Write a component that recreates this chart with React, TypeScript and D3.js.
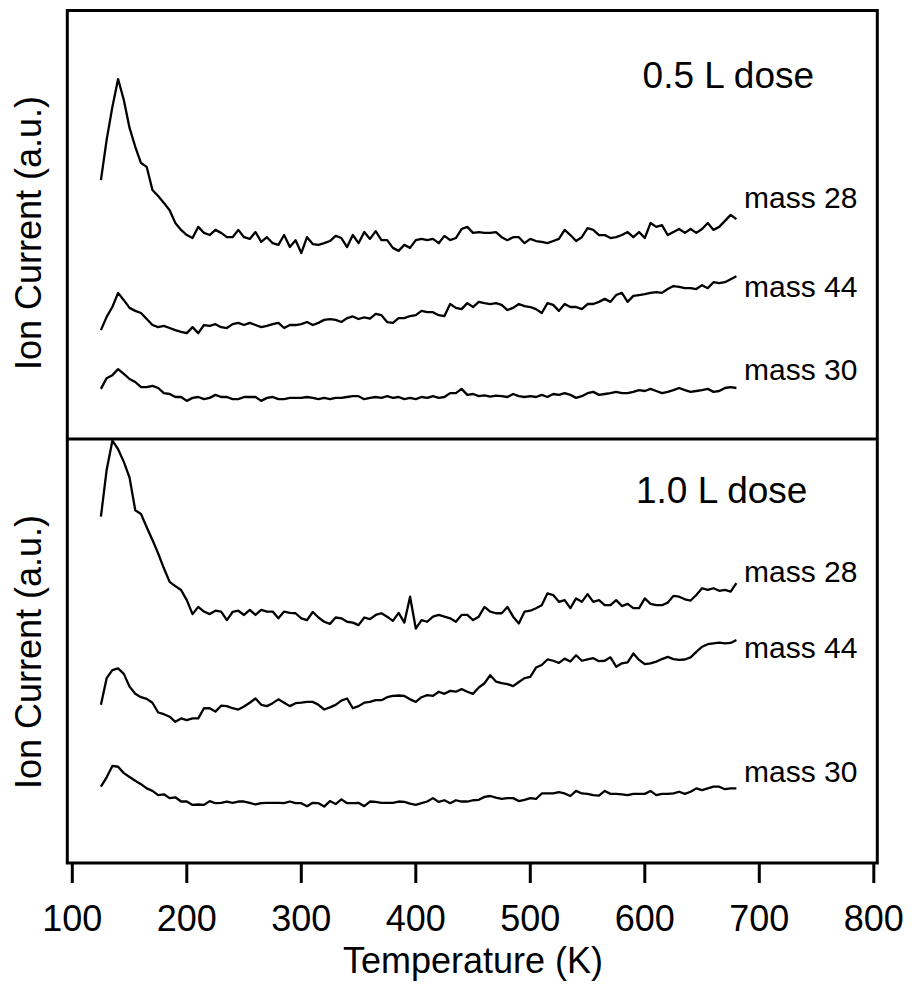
import React from "react";
import * as d3 from "d3";

// Temperature grid (K) of the sampled TPD traces
const temps: number[] = d3.range(125, 681, 5);

// 0.5 L dose panel (ion current, arbitrary units)
const m28Low = [
  60.4, 69.8, 77.5, 84.0, 79.1, 72.6, 68.2, 64.4, 63.5, 58.1,
  56.7, 55.1, 53.4, 50.4, 48.8, 47.6, 46.9, 49.5, 48.1, 47.6,
  48.8, 48.1, 47.1, 47.1, 48.8, 47.1, 46.7, 48.3, 46.0, 47.1,
  45.7, 45.3, 47.6, 44.8, 46.4, 43.4, 47.1, 45.5, 45.3, 45.7,
  46.2, 47.4, 46.9, 44.8, 47.6, 45.7, 48.3, 46.7, 48.5, 46.4,
  46.4, 44.6, 43.9, 45.3, 44.6, 46.4, 46.7, 46.4, 46.7, 45.7,
  47.4, 46.4, 46.9, 49.0, 49.5, 48.1, 48.3, 48.1, 48.1, 48.3,
  47.1, 46.4, 47.1, 47.1, 45.7, 46.7, 46.2, 46.0, 45.7, 46.2,
  46.7, 48.8, 47.6, 46.2, 47.1, 49.2, 48.8, 47.6, 47.6, 46.9,
  47.1, 47.6, 48.3, 47.1, 48.3, 46.9, 50.4, 49.5, 49.9, 47.6,
  48.3, 49.0, 48.1, 49.0, 48.1, 49.0, 50.4, 48.8, 49.5, 50.9,
  52.3, 51.3,
];
const m44Low = [
  25.4, 28.5, 30.8, 34.1, 32.4, 30.6, 29.9, 29.4, 28.0, 26.6,
  26.1, 26.4, 25.9, 25.4, 25.0, 24.7, 26.1, 24.7, 26.6, 26.4,
  26.8, 26.1, 25.9, 26.8, 27.1, 26.6, 27.1, 26.6, 26.1, 26.4,
  26.8, 27.1, 25.9, 26.6, 26.6, 26.8, 27.3, 26.6, 27.1, 27.8,
  28.0, 27.8, 27.3, 28.2, 28.6, 28.0, 28.4, 28.1, 29.2, 28.9,
  27.3, 27.1, 28.2, 28.2, 28.7, 28.9, 29.9, 29.6, 29.6, 28.9,
  28.7, 31.5, 30.6, 30.3, 31.7, 30.8, 32.0, 31.7, 31.5, 31.7,
  31.3, 30.1, 30.6, 31.5, 31.0, 30.8, 30.3, 29.4, 31.7, 31.3,
  29.9, 31.5, 30.8, 30.8, 30.3, 31.5, 31.5, 32.0, 32.7, 32.0,
  33.6, 34.1, 32.0, 33.4, 33.6, 33.8, 34.1, 34.3, 34.1, 35.0,
  35.7, 35.5, 35.2, 35.2, 35.0, 35.9, 35.2, 36.6, 36.4, 36.6,
  37.3, 38.0,
];
const m30Low = [
  11.7, 14.2, 14.9, 16.3, 15.2, 14.0, 13.3, 12.1, 12.1, 12.4,
  11.9, 10.7, 10.5, 9.8, 9.8, 8.9, 9.6, 9.8, 9.3, 9.6,
  10.3, 9.8, 9.8, 9.3, 9.3, 9.8, 9.8, 9.8, 8.9, 9.6,
  9.8, 9.3, 9.3, 9.6, 9.6, 9.6, 9.8, 9.6, 9.3, 9.6,
  9.3, 9.6, 9.6, 9.8, 10.0, 10.0, 9.3, 9.6, 9.8, 9.6,
  10.0, 9.6, 9.8, 9.3, 9.6, 9.3, 9.8, 9.6, 10.0, 9.6,
  9.8, 10.7, 10.7, 11.7, 10.3, 10.5, 10.0, 10.2, 9.9, 10.1,
  10.0, 9.8, 10.5, 10.0, 9.8, 10.0, 9.8, 10.3, 9.8, 10.5,
  10.3, 10.7, 10.3, 9.6, 10.0, 10.7, 11.0, 10.3, 10.5, 10.7,
  11.0, 10.7, 10.7, 11.0, 11.4, 11.2, 11.7, 11.2, 10.7, 11.0,
  11.4, 11.9, 11.4, 11.0, 11.2, 11.4, 11.7, 11.0, 11.2, 11.9,
  12.1, 11.9,
];

// 1.0 L dose panel (ion current, arbitrary units)
const m28High = [
  81.7, 92.7, 99.6, 97.6, 94.6, 90.9, 83.2, 82.3, 79.2, 76.2,
  73.0, 69.5, 66.3, 65.3, 64.4, 62.0, 58.7, 60.4, 59.3, 58.7,
  59.5, 59.3, 57.3, 59.2, 59.5, 58.5, 59.7, 58.5, 59.7, 59.3,
  59.3, 57.7, 59.3, 59.0, 58.9, 57.7, 57.3, 59.2, 57.9, 56.9,
  56.4, 57.9, 57.7, 56.9, 56.7, 56.1, 57.9, 57.5, 58.5, 58.9,
  58.1, 57.1, 59.0, 56.7, 62.8, 55.3, 57.3, 56.9, 58.1, 58.5,
  58.1, 57.7, 56.9, 58.5, 58.5, 57.3, 58.1, 60.4, 59.3, 58.9,
  58.9, 60.4, 58.1, 56.5, 59.3, 59.5, 60.1, 60.8, 63.6, 63.2,
  61.6, 62.0, 60.1, 62.4, 61.6, 63.4, 61.6, 62.0, 60.8, 60.8,
  62.0, 60.6, 61.1, 60.1, 60.1, 62.4, 61.1, 60.8, 60.8, 61.4,
  63.0, 62.8, 62.2, 61.9, 63.2, 64.8, 64.4, 64.8, 64.2, 64.4,
  64.0, 66.0,
];
const m44High = [
  37.3, 43.6, 45.5, 45.9, 44.6, 41.6, 39.9, 39.1, 38.7, 37.8,
  35.5, 35.1, 34.5, 33.3, 34.1, 33.7, 34.1, 34.1, 36.5, 36.5,
  35.7, 37.1, 37.0, 36.5, 36.2, 36.9, 37.8, 38.8, 37.3, 37.0,
  37.7, 38.6, 37.8, 37.0, 37.7, 37.8, 38.0, 38.0, 37.3, 36.2,
  36.7, 37.3, 38.3, 38.8, 36.5, 37.0, 37.8, 38.0, 38.4, 38.4,
  39.1, 39.4, 39.5, 39.4, 38.6, 38.0, 39.1, 39.6, 39.4, 40.4,
  39.9, 40.6, 40.4, 41.0, 40.4, 39.9, 41.4, 42.4, 44.3, 42.8,
  42.4, 42.2, 41.7, 42.7, 43.6, 43.9, 46.1, 46.7, 48.0, 47.7,
  47.2, 48.2, 47.5, 49.0, 47.7, 48.0, 48.3, 47.6, 47.7, 48.5,
  46.3, 47.1, 47.3, 49.4, 47.9, 46.9, 47.1, 47.5, 48.1, 48.6,
  48.1, 47.9, 48.0, 48.5, 49.8, 51.0, 51.6, 51.8, 52.0, 51.8,
  51.9, 52.6,
];
const m30High = [
  18.0, 20.2, 22.9, 22.7, 21.2, 20.3, 19.4, 18.6, 17.6, 17.0,
  16.0, 16.2, 15.3, 15.5, 14.5, 14.5, 13.7, 13.8, 13.7, 14.6,
  14.1, 14.2, 14.5, 14.2, 14.5, 14.5, 14.2, 13.8, 14.1, 14.2,
  14.2, 14.2, 14.1, 14.5, 14.1, 14.1, 13.4, 14.2, 14.1, 13.3,
  14.6, 13.9, 15.0, 14.1, 14.1, 14.2, 13.4, 14.5, 14.4, 14.2,
  14.2, 14.2, 14.5, 14.4, 14.0, 13.7, 14.1, 14.5, 15.3, 14.4,
  14.8, 14.1, 14.8, 14.5, 14.5, 14.8, 14.9, 15.6, 15.8, 15.4,
  15.1, 15.3, 15.3, 14.6, 14.9, 15.3, 15.1, 16.4, 16.4, 16.4,
  16.7, 16.4, 15.8, 17.0, 16.4, 16.3, 16.0, 15.9, 17.0, 16.3,
  16.3, 16.2, 16.0, 16.3, 16.3, 16.3, 17.0, 16.0, 16.3, 16.3,
  16.4, 16.8, 16.3, 16.8, 17.6, 17.2, 17.6, 18.0, 18.0, 17.4,
  17.6, 17.6,
];

const xTicks = [100, 200, 300, 400, 500, 600, 700, 800];
const seriesNames = ["mass 28", "mass 44", "mass 30"];
const doseLabels = ["0.5 L dose", "1.0 L dose"];
// label anchor positions in data units (temperature, ion current)
const seriesLabelT = 686.6;
const seriesLabelLow = [54.0, 33.2, 13.8];
const seriesLabelHigh = [66.3, 48.3, 19.2];
const doseLabelT = [598.1, 592.3];
const doseLabelY = [81.9, 84.8];

const FONT = "'Liberation Sans', Arial, Helvetica, sans-serif";

export default function App() {
  const W = 912;
  const H = 985;
  const left = 67.3;
  const right = 877.3;
  const top = 10.5;
  const mid = 439;
  const bottom = 863;

  const x = d3.scaleLinear().domain([100, 800]).range([72.3, 873.8]);
  const yLow = d3.scaleLinear().domain([0, 100]).range([mid, top]);
  const yHigh = d3.scaleLinear().domain([0, 100]).range([bottom, mid]);

  const panels = [
    { y: yLow, series: [m28Low, m44Low, m30Low], labelY: seriesLabelLow, center: 233 },
    { y: yHigh, series: [m28High, m44High, m30High], labelY: seriesLabelHigh, center: 652 },
  ];

  return (
    <svg
      width={W}
      height={H}
      style={{ position: "absolute", left: 0, top: 0, background: "#fff" }}
      fontFamily={FONT}
    >
      <rect x={0} y={0} width={W} height={H} fill="#fff" />
      {panels.map((p, pi) => {
        const line = d3
          .line<number>()
          .x((_, i) => x(temps[i]))
          .y((v) => p.y(v));
        return (
          <g key={pi}>
            {p.series.map((s, si) => (
              <path
                key={si}
                d={line(s) || ""}
                fill="none"
                stroke="#000"
                strokeWidth={2.3}
                strokeLinejoin="round"
              />
            ))}
            {seriesNames.map((n, si) => (
              <text
                key={n}
                x={x(seriesLabelT)}
                y={p.y(p.labelY[si])}
                fontSize={30}
                fill="#000"
              >
                {n}
              </text>
            ))}
            <text
              x={x(doseLabelT[pi])}
              y={p.y(doseLabelY[pi])}
              fontSize={37}
              fill="#000"
            >
              {doseLabels[pi]}
            </text>
            <text
              transform={`translate(40.7,${p.center}) rotate(-90)`}
              textAnchor="middle"
              fontSize={36}
              fill="#000"
            >
              Ion Current (a.u.)
            </text>
          </g>
        );
      })}
      {/* frame */}
      <rect
        x={left}
        y={top}
        width={right - left}
        height={bottom - top}
        fill="none"
        stroke="#000"
        strokeWidth={3}
      />
      <line x1={left} x2={right} y1={mid} y2={mid} stroke="#000" strokeWidth={3} />
      {/* x axis ticks */}
      {xTicks.map((t) => (
        <g key={t}>
          <line x1={x(t)} x2={x(t)} y1={bottom} y2={883} stroke="#000" strokeWidth={3} />
          <text x={x(t)} y={931} textAnchor="middle" fontSize={36} fill="#000">
            {t}
          </text>
        </g>
      ))}
      <text x={(x(100) + x(800)) / 2} y={973} textAnchor="middle" fontSize={36} fill="#000">
        Temperature (K)
      </text>
    </svg>
  );
}
